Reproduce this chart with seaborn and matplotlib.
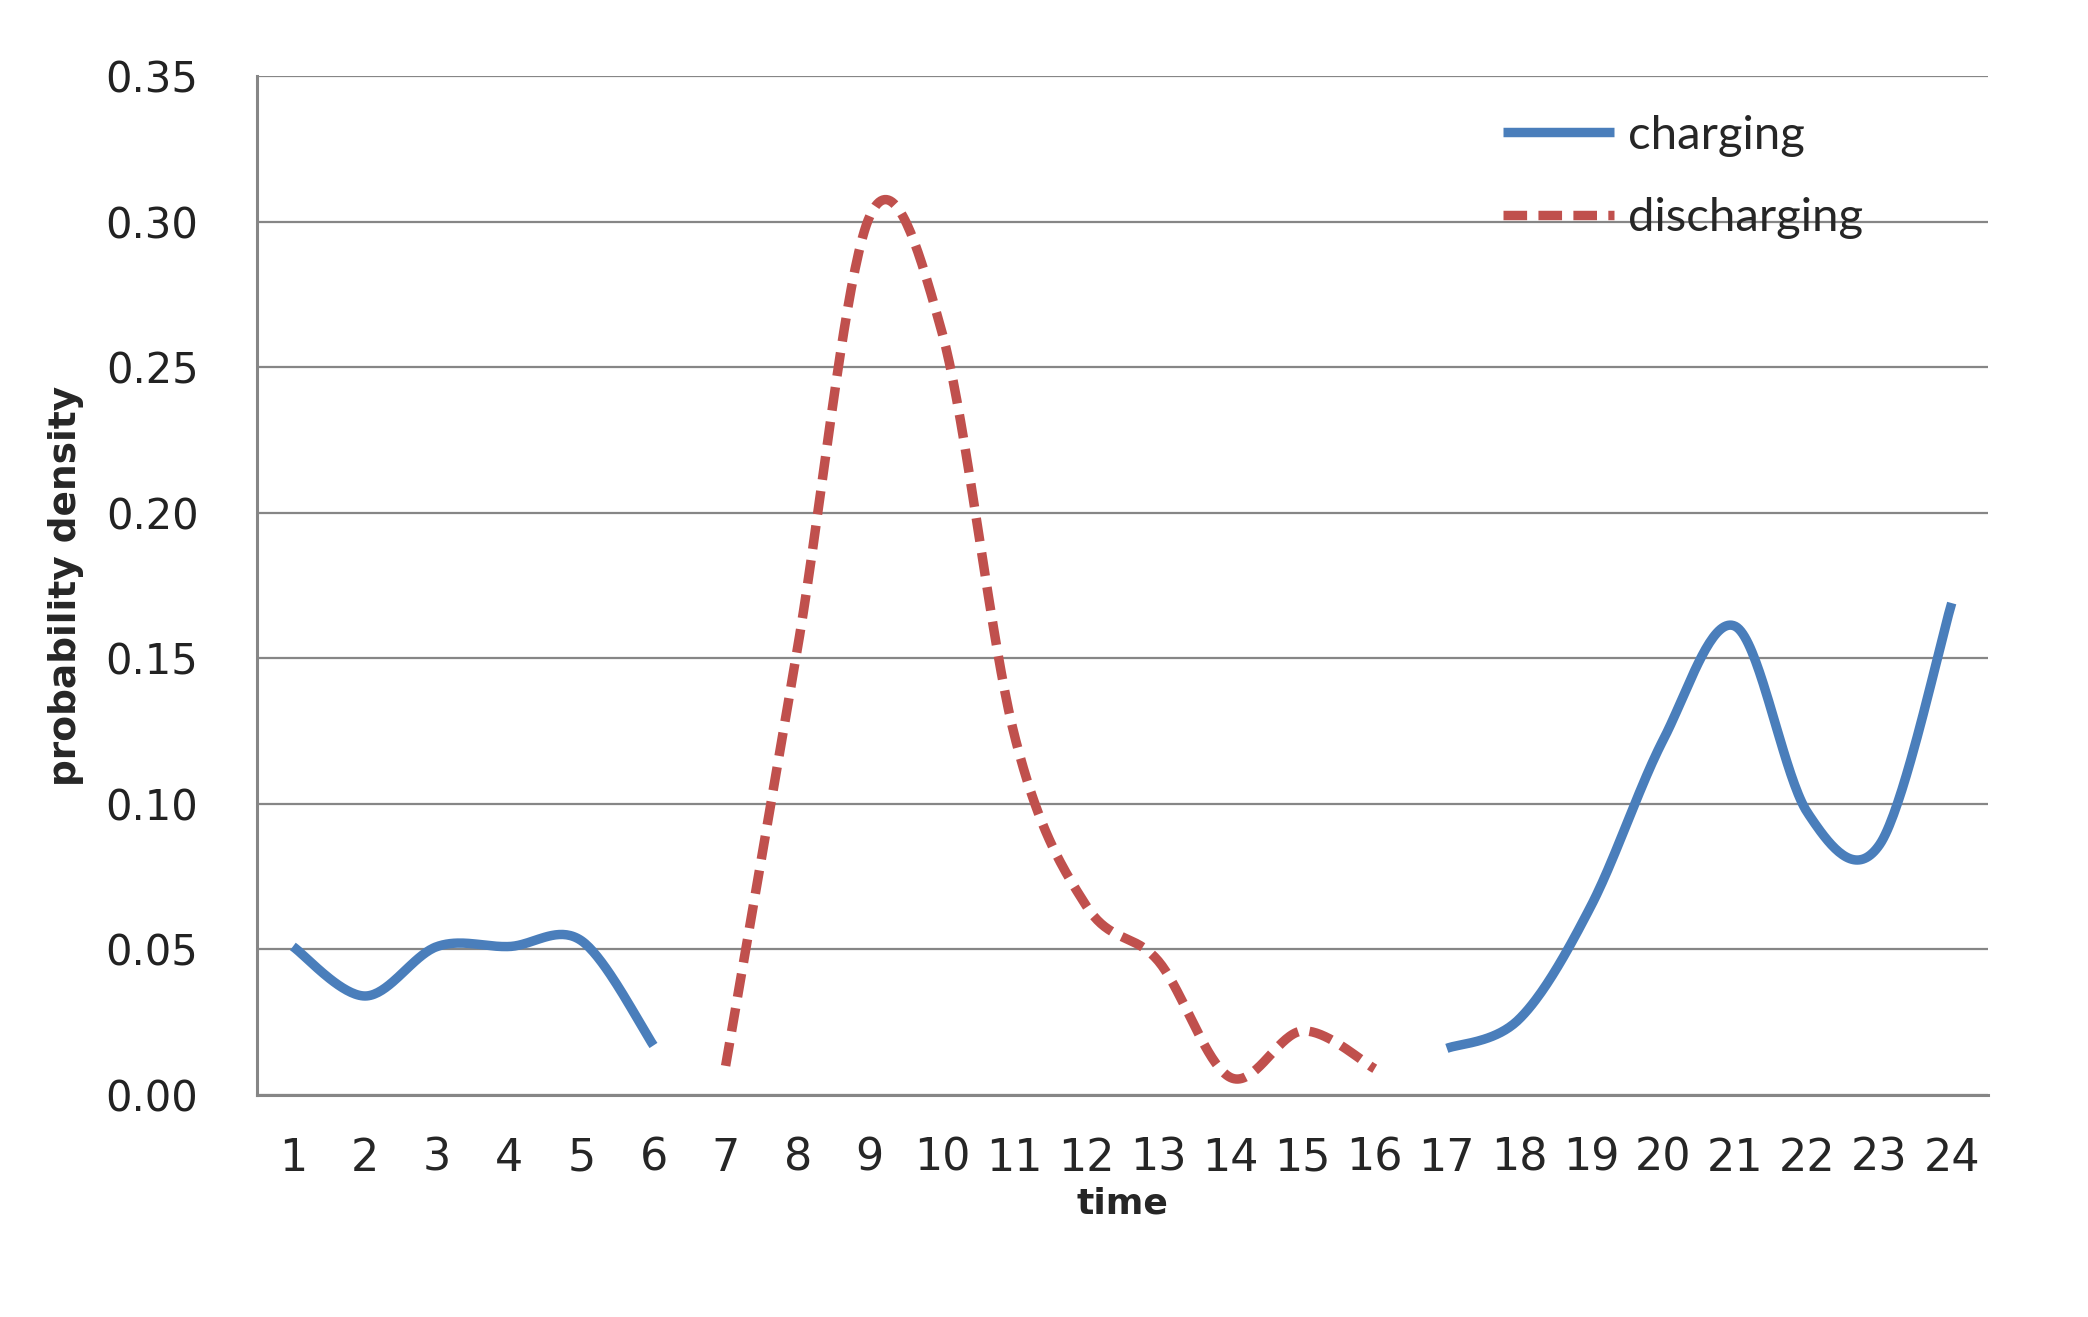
import numpy as np
import matplotlib
matplotlib.use("Agg")
import matplotlib.pyplot as plt
import seaborn as sns
from matplotlib.ticker import FixedLocator, FormatStrFormatter

# hourly probability density (None = no value)
hours = list(range(1, 25))
charging = [0.051, 0.034, 0.051, 0.051, 0.053, 0.017,
            None, None, None, None, None, None, None, None, None, None,
            0.016, 0.026, 0.065, 0.122, 0.161, 0.097, 0.086, 0.169]
discharging = [None, None, None, None, None, None,
               0.010, 0.154, 0.302, 0.262, 0.124, 0.065, 0.046, 0.006, 0.022, 0.009,
               None, None, None, None, None, None, None, None]
y_ticks = [0.00, 0.05, 0.10, 0.15, 0.20, 0.25, 0.30, 0.35]

BLUE = "#4a7ebb"
RED = "#c0504d"
GRID = "#868686"


def segments(xs, ys):
    # split a series into runs of consecutive values (gaps break the line)
    runs, cur = [], []
    for x, y in zip(xs, ys):
        if y is None:
            if cur:
                runs.append(cur)
            cur = []
        else:
            cur.append((x, y))
    if cur:
        runs.append(cur)
    return runs


def smooth(run, n=40):
    # Excel-like smoothed line: Catmull-Rom bezier through the data points
    p = np.array(run, dtype=float)
    p = np.vstack([p[0], p, p[-1]])
    t = np.linspace(0, 1, n)[:, None]
    out = []
    for i in range(1, len(p) - 2):
        b0 = p[i]
        b1 = p[i] + (p[i + 1] - p[i - 1]) / 6
        b2 = p[i + 1] - (p[i + 2] - p[i]) / 6
        b3 = p[i + 1]
        seg = ((1 - t) ** 3) * b0 + 3 * ((1 - t) ** 2) * t * b1 + 3 * (1 - t) * t ** 2 * b2 + t ** 3 * b3
        out.append(seg if i == 1 else seg[1:])
    out = np.vstack(out)
    return out[:, 0], out[:, 1]


sns.set_style("white")
fig = plt.figure(figsize=(20.88, 13.17), dpi=100)
ax = fig.add_axes([0.123, 0.1686, 0.829, 0.7735])

for series, color, style, name in [(charging, BLUE, "-", "charging"),
                                    (discharging, RED, (0, (2.5, 1.2)), "discharging")]:
    for k, run in enumerate(segments(hours, series)):
        sx, sy = smooth(run)
        sns.lineplot(x=sx, y=sy, ax=ax, sort=False, estimator=None, color=color,
                     linewidth=6.8, linestyle=style, label=name if k == 0 else None,
                     solid_capstyle="butt", dash_capstyle="butt", zorder=3)

ax.set_xlim(0.5, 24.5)
ax.set_ylim(0, 0.35)

ax.xaxis.set_major_locator(FixedLocator(hours))
ax.xaxis.set_minor_locator(FixedLocator(np.arange(0.5, 25, 1)))
ax.set_xticklabels([str(h) for h in hours], family=["DejaVu Sans"], fontsize=32)
ax.tick_params(axis="x", which="major", length=0, pad=30)
ax.tick_params(axis="x", which="minor", length=12, width=1.5, color=GRID, direction="out")

ax.yaxis.set_major_locator(FixedLocator(y_ticks))
ax.yaxis.set_major_formatter(FormatStrFormatter("%.2f"))
ax.tick_params(axis="y", which="major", length=10, width=1.5, color=GRID, direction="out",
               pad=32, labelsize=30)
for lab in ax.get_yticklabels():
    lab.set_family(["DejaVu Sans"])
    lab.set_color("#222222")

ax.grid(axis="y", color=GRID, linewidth=1.6)
ax.set_axisbelow(True)
for side in ["top", "right"]:
    ax.spines[side].set_visible(False)
for side in ["left", "bottom"]:
    ax.spines[side].set_color(GRID)
    ax.spines[side].set_linewidth(2.2)

ax.set_xlabel("time", fontsize=26, fontweight="bold", family=["DejaVu Sans"])
ax.xaxis.set_label_coords(0.5, -0.09)
ax.set_ylabel("probability density", fontsize=27, fontweight="bold", family=["DejaVu Sans"])
ax.yaxis.set_label_coords(-0.1, 0.5)

leg = ax.legend(loc="upper left", bbox_to_anchor=(0.72, 0.962), frameon=False,
                prop={"family": ["Lato", "DejaVu Sans"], "size": 34},
                handlelength=2.35, handletextpad=0.3, labelspacing=0.85,
                borderpad=0, borderaxespad=0)

fig.savefig("out.png", dpi=100)
